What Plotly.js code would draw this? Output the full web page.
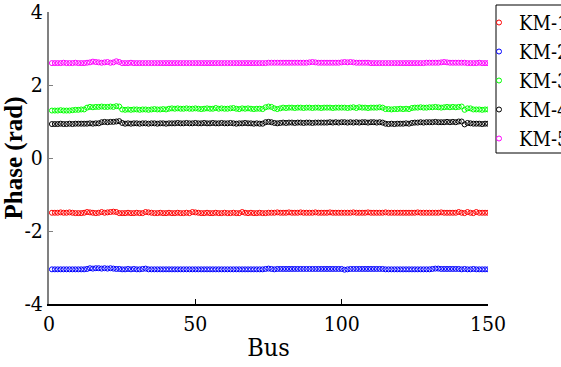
<!DOCTYPE html>
<html>
<head>
<meta charset="utf-8">
<script src="https://cdn.plot.ly/plotly-3.0.1.min.js"></script>
<style>html,body{margin:0;padding:0;background:#fff;overflow:hidden}#plot{width:561px;height:367px}</style>
</head>
<body>
<div id="plot"></div>
<script>
var seriesNames = ["KM-1", "KM-2", "KM-3", "KM-4", "KM-5"];
var seriesColors = ["#ff0000", "#0000ff", "#00ff00", "#000000", "#ff00ff"];
var xTickVals = [0, 50, 100, 150];
var yTickVals = [-4, -2, 0, 2, 4];

var km1 = [
-1.50,-1.50,-1.50,-1.49,-1.50,-1.50,-1.49,-1.50,-1.51,-1.51,
-1.51,-1.50,-1.48,-1.49,-1.50,-1.51,-1.50,-1.48,-1.50,-1.49,
-1.48,-1.47,-1.48,-1.51,-1.51,-1.51,-1.50,-1.51,-1.51,-1.50,
-1.51,-1.51,-1.48,-1.49,-1.50,-1.51,-1.51,-1.50,-1.51,-1.51,
-1.50,-1.51,-1.51,-1.50,-1.51,-1.51,-1.50,-1.51,-1.48,-1.49,
-1.50,-1.51,-1.51,-1.50,-1.51,-1.51,-1.50,-1.51,-1.51,-1.50,
-1.51,-1.51,-1.50,-1.51,-1.51,-1.48,-1.50,-1.51,-1.50,-1.51,
-1.51,-1.50,-1.51,-1.51,-1.50,-1.50,-1.50,-1.49,-1.50,-1.50,
-1.50,-1.49,-1.50,-1.50,-1.50,-1.49,-1.50,-1.50,-1.50,-1.50,
-1.49,-1.50,-1.50,-1.50,-1.50,-1.49,-1.50,-1.50,-1.50,-1.50,
-1.50,-1.50,-1.50,-1.49,-1.50,-1.50,-1.50,-1.50,-1.49,-1.50,
-1.50,-1.50,-1.50,-1.50,-1.49,-1.50,-1.50,-1.50,-1.50,-1.50,
-1.50,-1.50,-1.50,-1.50,-1.50,-1.49,-1.50,-1.50,-1.50,-1.50,
-1.50,-1.50,-1.50,-1.49,-1.50,-1.50,-1.50,-1.50,-1.50,-1.48,
-1.50,-1.51,-1.48,-1.50,-1.51,-1.48,-1.50,-1.50,-1.50,-1.50
];
var km2 = [
-3.05,-3.05,-3.05,-3.05,-3.05,-3.05,-3.05,-3.05,-3.05,-3.05,
-3.05,-3.05,-3.04,-3.02,-3.03,-3.02,-3.02,-3.03,-3.02,-3.03,
-3.02,-3.03,-3.04,-3.04,-3.05,-3.05,-3.04,-3.05,-3.04,-3.05,
-3.05,-3.04,-3.03,-3.05,-3.05,-3.05,-3.05,-3.05,-3.05,-3.05,
-3.05,-3.05,-3.05,-3.05,-3.05,-3.05,-3.05,-3.05,-3.05,-3.05,
-3.05,-3.05,-3.05,-3.05,-3.05,-3.05,-3.05,-3.05,-3.05,-3.05,
-3.05,-3.05,-3.05,-3.05,-3.05,-3.05,-3.05,-3.05,-3.05,-3.05,
-3.05,-3.05,-3.05,-3.04,-3.03,-3.04,-3.05,-3.04,-3.04,-3.04,
-3.04,-3.04,-3.04,-3.04,-3.04,-3.04,-3.04,-3.04,-3.04,-3.04,
-3.04,-3.04,-3.04,-3.04,-3.04,-3.04,-3.04,-3.04,-3.04,-3.04,
-3.06,-3.05,-3.04,-3.04,-3.04,-3.04,-3.04,-3.04,-3.04,-3.04,
-3.04,-3.04,-3.04,-3.04,-3.05,-3.05,-3.05,-3.05,-3.05,-3.05,
-3.05,-3.05,-3.05,-3.05,-3.05,-3.05,-3.05,-3.05,-3.05,-3.05,
-3.04,-3.03,-3.03,-3.04,-3.04,-3.04,-3.04,-3.04,-3.04,-3.04,
-3.05,-3.04,-3.05,-3.05,-3.04,-3.05,-3.05,-3.05,-3.05,-3.05
];
var km3 = [
1.30,1.30,1.30,1.31,1.30,1.30,1.30,1.31,1.32,1.32,
1.33,1.33,1.38,1.40,1.39,1.40,1.40,1.41,1.40,1.40,
1.41,1.40,1.42,1.41,1.33,1.32,1.33,1.32,1.33,1.33,
1.32,1.33,1.33,1.32,1.33,1.34,1.33,1.33,1.34,1.33,
1.35,1.36,1.35,1.36,1.35,1.35,1.36,1.35,1.35,1.36,
1.35,1.34,1.35,1.36,1.35,1.35,1.37,1.35,1.36,1.35,
1.35,1.36,1.37,1.35,1.34,1.36,1.35,1.36,1.35,1.34,
1.35,1.35,1.34,1.39,1.41,1.40,1.36,1.34,1.36,1.38,
1.37,1.38,1.38,1.37,1.38,1.38,1.37,1.38,1.38,1.37,
1.38,1.38,1.37,1.38,1.38,1.38,1.37,1.38,1.38,1.38,
1.38,1.37,1.38,1.39,1.37,1.39,1.38,1.38,1.37,1.38,
1.38,1.38,1.39,1.38,1.34,1.34,1.33,1.34,1.34,1.35,
1.34,1.35,1.34,1.37,1.38,1.38,1.39,1.38,1.38,1.39,
1.39,1.40,1.39,1.38,1.39,1.40,1.39,1.40,1.39,1.40,
1.41,1.32,1.36,1.36,1.33,1.33,1.33,1.32,1.33,1.33
];
var km4 = [
0.93,0.93,0.93,0.94,0.93,0.93,0.94,0.93,0.94,0.94,
0.94,0.94,0.94,0.95,0.94,0.95,0.95,0.98,0.99,0.98,
0.99,0.99,1.00,1.01,0.96,0.94,0.95,0.94,0.95,0.95,
0.94,0.95,0.95,0.94,0.95,0.95,0.94,0.95,0.95,0.94,
0.95,0.95,0.95,0.96,0.95,0.95,0.96,0.95,0.95,0.96,
0.95,0.95,0.96,0.95,0.95,0.96,0.95,0.95,0.96,0.95,
0.95,0.96,0.95,0.94,0.95,0.95,0.96,0.95,0.95,0.94,
0.95,0.94,0.94,0.98,0.99,0.98,0.96,0.95,0.96,0.97,
0.96,0.97,0.97,0.96,0.97,0.97,0.96,0.97,0.97,0.96,
0.97,0.97,0.97,0.97,0.97,0.98,0.97,0.98,0.97,0.98,
0.98,0.97,0.98,0.97,0.98,0.97,0.98,0.98,0.97,0.98,
0.98,0.97,0.98,0.97,0.94,0.93,0.94,0.93,0.94,0.94,
0.94,0.95,0.94,0.96,0.97,0.97,0.98,0.97,0.98,0.98,
0.98,0.99,0.98,0.98,0.98,0.99,0.98,0.99,0.98,1.00,
1.00,0.92,0.96,0.95,0.94,0.94,0.94,0.93,0.94,0.94
];
var km5 = [
2.60,2.60,2.60,2.60,2.61,2.60,2.60,2.60,2.61,2.60,
2.60,2.60,2.61,2.62,2.64,2.63,2.62,2.61,2.62,2.63,
2.61,2.62,2.65,2.63,2.60,2.60,2.60,2.61,2.60,2.60,
2.60,2.60,2.60,2.60,2.60,2.60,2.60,2.60,2.60,2.60,
2.60,2.60,2.60,2.60,2.60,2.60,2.60,2.60,2.60,2.60,
2.60,2.60,2.60,2.60,2.60,2.60,2.60,2.60,2.60,2.60,
2.60,2.60,2.60,2.60,2.60,2.60,2.60,2.60,2.60,2.60,
2.60,2.60,2.60,2.60,2.61,2.61,2.61,2.61,2.61,2.61,
2.61,2.61,2.61,2.61,2.61,2.61,2.61,2.61,2.62,2.63,
2.62,2.61,2.61,2.61,2.61,2.61,2.61,2.61,2.61,2.62,
2.63,2.62,2.63,2.62,2.61,2.61,2.61,2.61,2.61,2.60,
2.60,2.60,2.60,2.60,2.60,2.60,2.60,2.60,2.60,2.60,
2.60,2.60,2.60,2.60,2.60,2.60,2.60,2.60,2.61,2.61,
2.61,2.61,2.61,2.62,2.63,2.62,2.61,2.61,2.61,2.61,
2.61,2.61,2.60,2.60,2.60,2.60,2.61,2.60,2.60,2.60
];
var seriesValues = [km1, km2, km3, km4, km5];

var bus = [];
for (var i = 1; i <= km1.length; i++) bus.push(i);

var traces = seriesValues.map(function (vals, k) {
  return {
    x: bus, y: vals, name: seriesNames[k], type: 'scatter', mode: 'markers',
    marker: {symbol: 'circle-open', size: 5, color: seriesColors[k], line: {width: 1, color: seriesColors[k]}}
  };
});

var ffReg = 'DejaVu Serif Condensed, DejaVu Serif';
var ffBold = 'Liberation Serif';
var layout = {
  width: 561, height: 367,
  margin: {l: 49, r: 73, t: 12, b: 63, pad: 0, autoexpand: false},
  paper_bgcolor: '#fff', plot_bgcolor: '#fff',
  font: {family: ffReg, color: '#000'},
  showlegend: true,
  legend: {
    xref: 'container', yref: 'container',
    x: 479 / 561, xanchor: 'left', y: 1 - 3 / 367, yanchor: 'top',
    borderwidth: 0, bgcolor: 'rgba(0,0,0,0)',
    font: {family: ffReg, size: 20, color: '#000'},
    itemwidth: 30, tracegroupgap: 0
  },
  shapes: [{
    type: 'rect', xref: 'paper', yref: 'paper',
    x0: (496 - 49) / 439, x1: (565 - 49) / 439,
    y0: (304 - 153) / 292, y1: (304 - 5) / 292,
    line: {color: '#000', width: 1}, fillcolor: 'rgba(0,0,0,0)', layer: 'above'
  }],
  xaxis: {
    range: [0, 150], tickvals: xTickVals, ticktext: xTickVals.map(String),
    ticks: 'inside', ticklen: 5, tickcolor: '#000', tickwidth: 1,
    showline: true, linecolor: '#000', linewidth: 1.5, showgrid: false, zeroline: false,
    tickfont: {family: ffReg, size: 21}, mirror: false,
    title: {text: 'Bus', font: {family: ffReg, size: 25}, standoff: 4}
  },
  yaxis: {
    range: [-4, 4], tickvals: yTickVals, ticktext: yTickVals.map(String),
    ticks: 'inside', ticklen: 4, tickcolor: '#808080', tickwidth: 1,
    showline: true, linecolor: '#808080', linewidth: 2, showgrid: false, zeroline: false,
    tickfont: {family: ffReg, size: 21},
    title: {text: '<b>Phase (rad)</b>', font: {family: ffBold, size: 25}, standoff: 6}
  }
};

Plotly.newPlot('plot', traces, layout, {staticPlot: true, displayModeBar: false});
</script>
</body>
</html>
